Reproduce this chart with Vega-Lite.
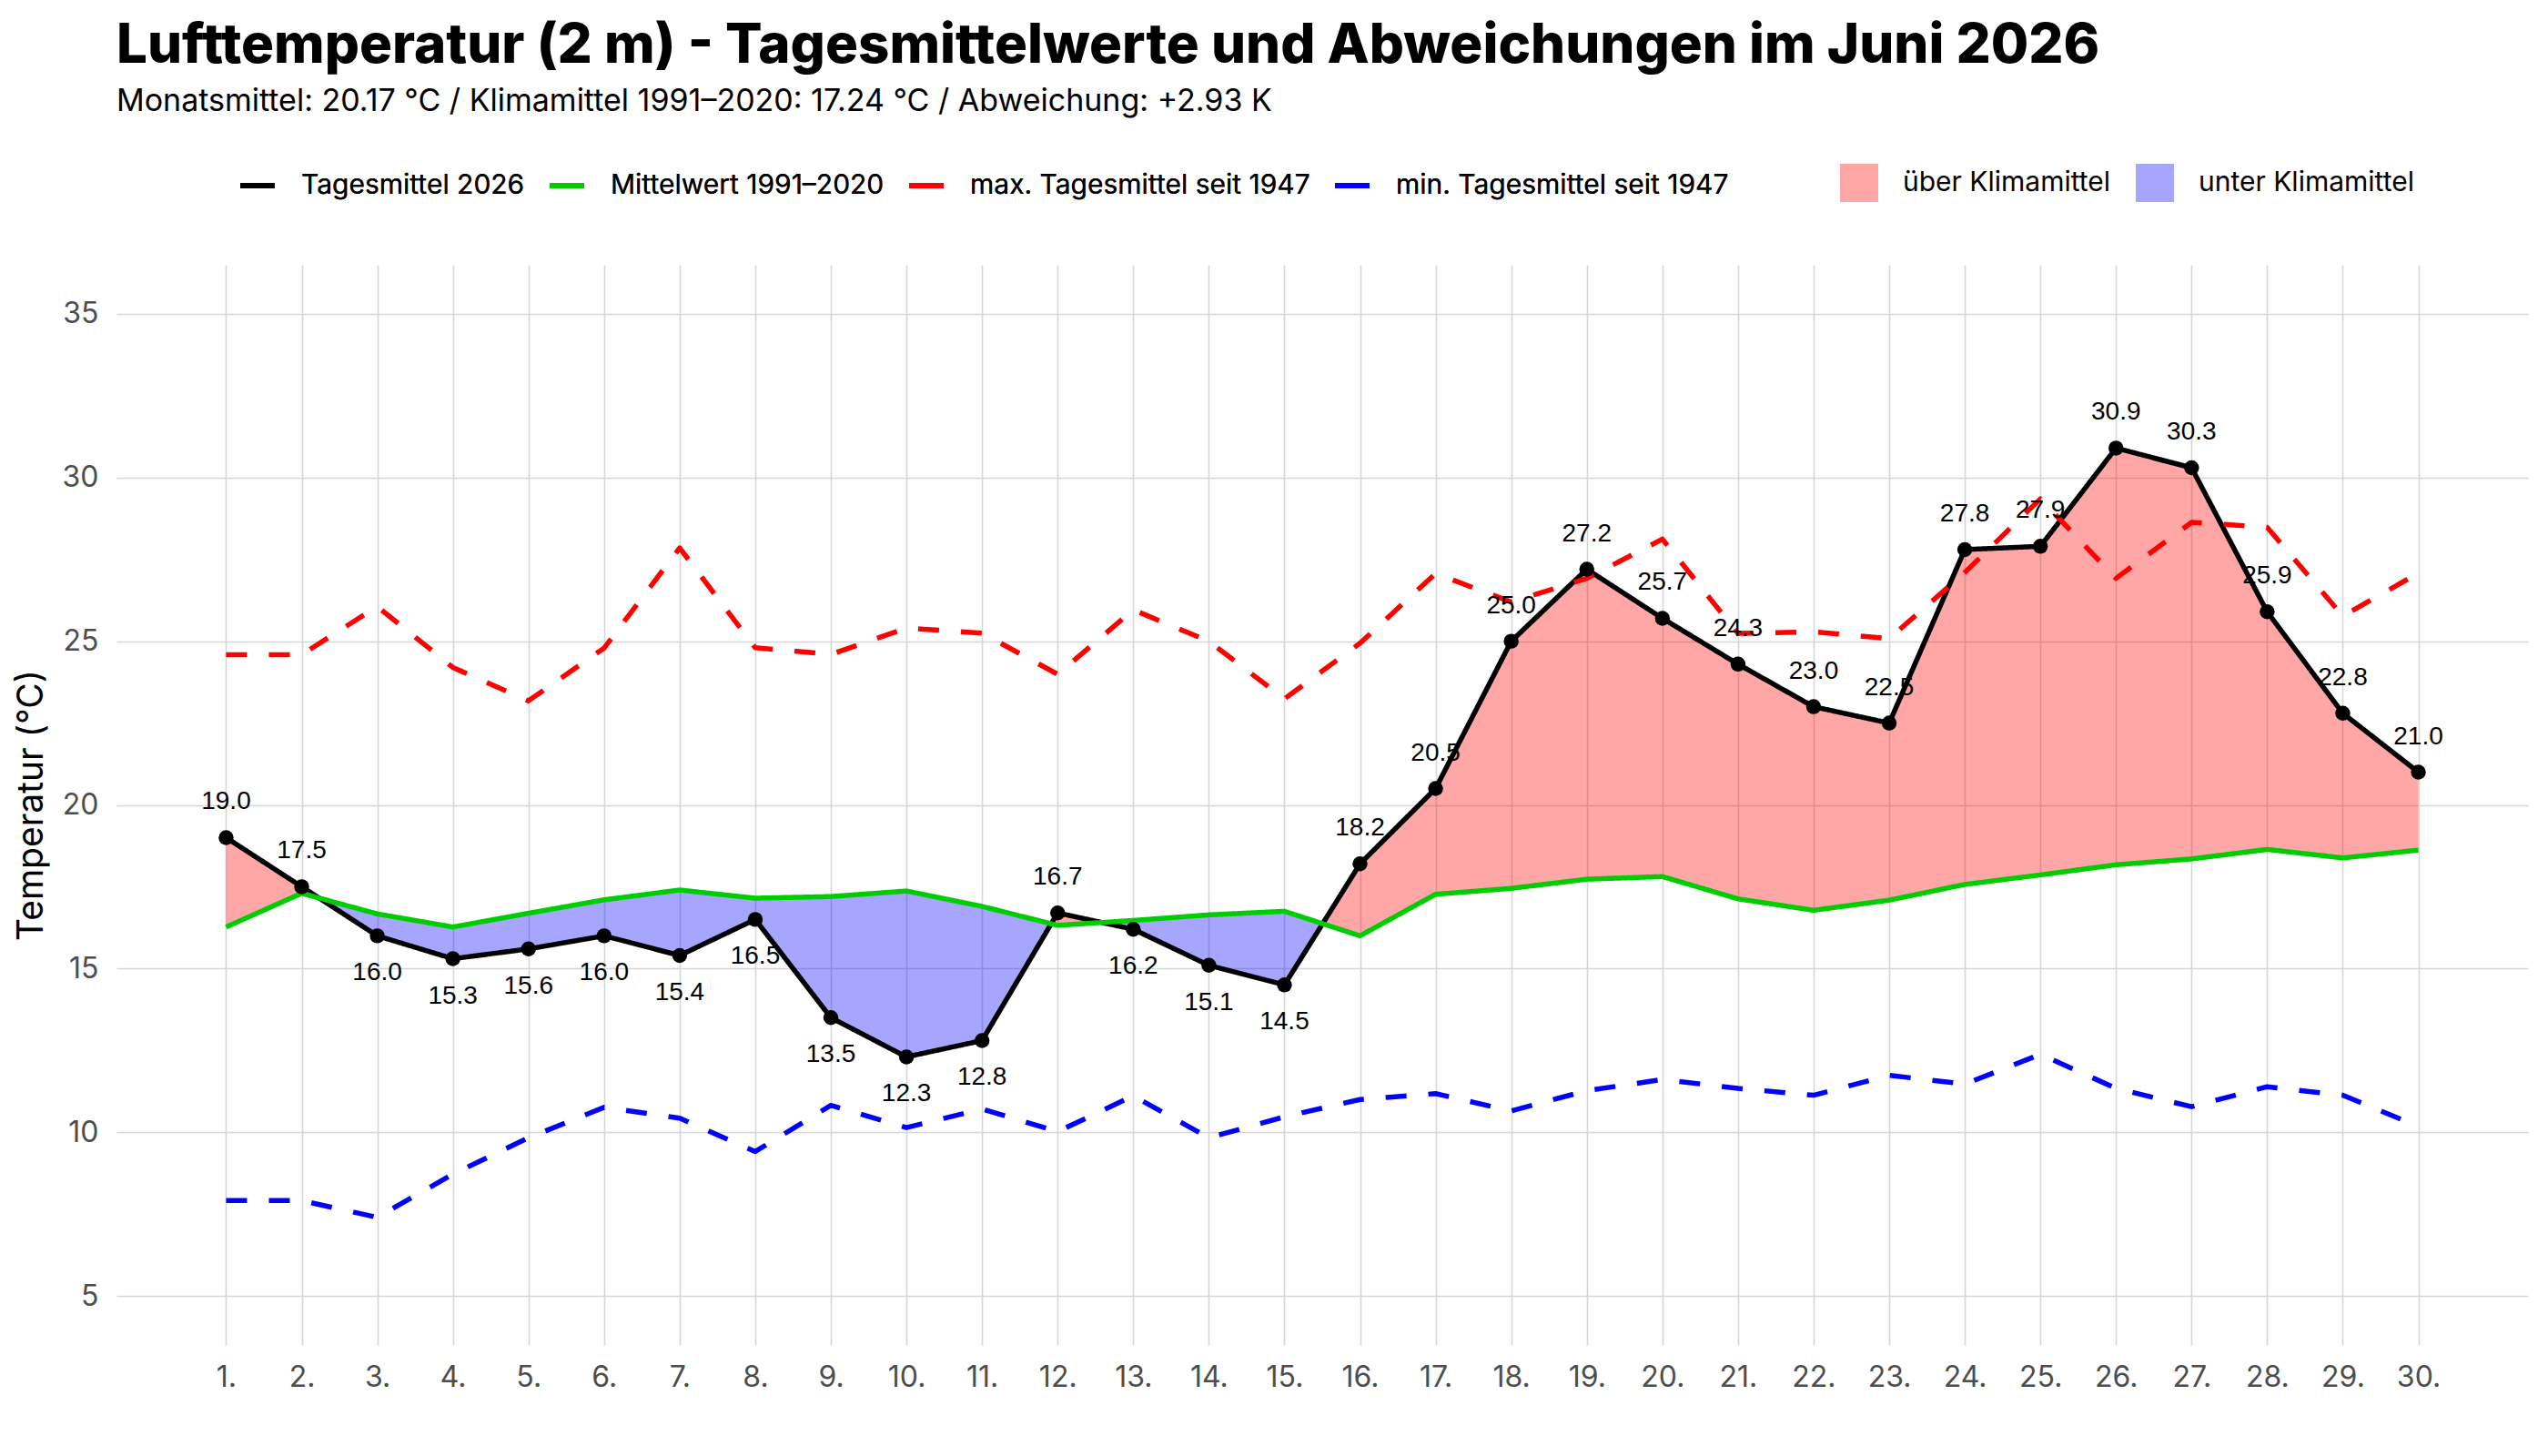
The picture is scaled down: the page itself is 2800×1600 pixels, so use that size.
{
  "$schema": "https://vega.github.io/schema/vega-lite/v6.json",
  "width": 2650,
  "height": 1187,
  "autosize": {"type": "none"},
  "padding": {"left": 128, "top": 291, "right": 22, "bottom": 122},
  "background": "white",
  "title": {
    "text": "Lufttemperatur (2 m) - Tagesmittelwerte und Abweichungen im Juni 2026",
    "subtitle": "Monatsmittel: 20.17 °C / Klimamittel 1991–2020: 17.24 °C / Abweichung: +2.93 K",
    "anchor": "start",
    "frame": "group",
    "font": "Inter",
    "fontSize": 60,
    "fontWeight": 800,
    "color": "#000000",
    "subtitleFont": "Inter",
    "subtitleFontSize": 34,
    "subtitleColor": "#000000",
    "subtitlePadding": 13,
    "offset": 50
  },
  "datasets": {
    "tage": [
      {"tag": 1, "tages": 19.0, "klima": 16.27, "max": 24.59, "min": 7.91},
      {"tag": 2, "tages": 17.5, "klima": 17.3, "max": 24.59, "min": 7.91},
      {"tag": 3, "tages": 16.0, "klima": 16.67, "max": 26.06, "min": 7.4},
      {"tag": 4, "tages": 15.3, "klima": 16.27, "max": 24.2, "min": 8.72},
      {"tag": 5, "tages": 15.6, "klima": 16.69, "max": 23.18, "min": 9.83},
      {"tag": 6, "tages": 16.0, "klima": 17.1, "max": 24.79, "min": 10.76},
      {"tag": 7, "tages": 15.4, "klima": 17.4, "max": 27.85, "min": 10.43},
      {"tag": 8, "tages": 16.5, "klima": 17.15, "max": 24.8, "min": 9.41},
      {"tag": 9, "tages": 13.5, "klima": 17.2, "max": 24.6, "min": 10.82},
      {"tag": 10, "tages": 12.3, "klima": 17.37, "max": 25.4, "min": 10.14},
      {"tag": 11, "tages": 12.8, "klima": 16.9, "max": 25.25, "min": 10.71},
      {"tag": 12, "tages": 16.7, "klima": 16.32, "max": 23.99, "min": 10.02},
      {"tag": 13, "tages": 16.2, "klima": 16.47, "max": 25.96, "min": 11.11},
      {"tag": 14, "tages": 15.1, "klima": 16.64, "max": 25.0, "min": 9.83},
      {"tag": 15, "tages": 14.5, "klima": 16.75, "max": 23.24, "min": 10.47},
      {"tag": 16, "tages": 18.2, "klima": 16.0, "max": 24.94, "min": 11.0},
      {"tag": 17, "tages": 20.5, "klima": 17.27, "max": 27.07, "min": 11.18},
      {"tag": 18, "tages": 25.0, "klima": 17.45, "max": 26.2, "min": 10.65},
      {"tag": 19, "tages": 27.2, "klima": 17.73, "max": 26.92, "min": 11.27},
      {"tag": 20, "tages": 25.7, "klima": 17.81, "max": 28.12, "min": 11.61},
      {"tag": 21, "tages": 24.3, "klima": 17.13, "max": 25.24, "min": 11.34},
      {"tag": 22, "tages": 23.0, "klima": 16.78, "max": 25.29, "min": 11.13},
      {"tag": 23, "tages": 22.5, "klima": 17.09, "max": 25.08, "min": 11.74},
      {"tag": 24, "tages": 27.8, "klima": 17.57, "max": 27.1, "min": 11.47},
      {"tag": 25, "tages": 27.9, "klima": 17.86, "max": 29.35, "min": 12.38},
      {"tag": 26, "tages": 30.9, "klima": 18.17, "max": 26.92, "min": 11.34},
      {"tag": 27, "tages": 30.3, "klima": 18.35, "max": 28.63, "min": 10.78},
      {"tag": 28, "tages": 25.9, "klima": 18.64, "max": 28.48, "min": 11.39},
      {"tag": 29, "tages": 22.8, "klima": 18.38, "max": 25.77, "min": 11.13},
      {"tag": 30, "tages": 21.0, "klima": 18.62, "max": 27.08, "min": 10.18}
    ],
    "band": [
      {"tag": 1, "von": 16.27, "bis": 19.0, "seite": "über Klimamittel", "abschnitt": 1},
      {"tag": 2, "von": 17.3, "bis": 17.5, "seite": "über Klimamittel", "abschnitt": 1},
      {"tag": 2.23, "von": 17.155, "bis": 17.155, "seite": "über Klimamittel", "abschnitt": 1},
      {"tag": 2.23, "von": 17.155, "bis": 17.155, "seite": "unter Klimamittel", "abschnitt": 2},
      {"tag": 3, "von": 16.0, "bis": 16.67, "seite": "unter Klimamittel", "abschnitt": 2},
      {"tag": 4, "von": 15.3, "bis": 16.27, "seite": "unter Klimamittel", "abschnitt": 2},
      {"tag": 5, "von": 15.6, "bis": 16.69, "seite": "unter Klimamittel", "abschnitt": 2},
      {"tag": 6, "von": 16.0, "bis": 17.1, "seite": "unter Klimamittel", "abschnitt": 2},
      {"tag": 7, "von": 15.4, "bis": 17.4, "seite": "unter Klimamittel", "abschnitt": 2},
      {"tag": 8, "von": 16.5, "bis": 17.15, "seite": "unter Klimamittel", "abschnitt": 2},
      {"tag": 9, "von": 13.5, "bis": 17.2, "seite": "unter Klimamittel", "abschnitt": 2},
      {"tag": 10, "von": 12.3, "bis": 17.37, "seite": "unter Klimamittel", "abschnitt": 2},
      {"tag": 11, "von": 12.8, "bis": 16.9, "seite": "unter Klimamittel", "abschnitt": 2},
      {"tag": 11.915, "von": 16.37, "bis": 16.37, "seite": "unter Klimamittel", "abschnitt": 2},
      {"tag": 11.915, "von": 16.37, "bis": 16.37, "seite": "über Klimamittel", "abschnitt": 3},
      {"tag": 12, "von": 16.32, "bis": 16.7, "seite": "über Klimamittel", "abschnitt": 3},
      {"tag": 12.585, "von": 16.41, "bis": 16.41, "seite": "über Klimamittel", "abschnitt": 3},
      {"tag": 12.585, "von": 16.41, "bis": 16.41, "seite": "unter Klimamittel", "abschnitt": 4},
      {"tag": 13, "von": 16.2, "bis": 16.47, "seite": "unter Klimamittel", "abschnitt": 4},
      {"tag": 14, "von": 15.1, "bis": 16.64, "seite": "unter Klimamittel", "abschnitt": 4},
      {"tag": 15, "von": 14.5, "bis": 16.75, "seite": "unter Klimamittel", "abschnitt": 4},
      {"tag": 15.506, "von": 16.37, "bis": 16.37, "seite": "unter Klimamittel", "abschnitt": 4},
      {"tag": 15.506, "von": 16.37, "bis": 16.37, "seite": "über Klimamittel", "abschnitt": 5},
      {"tag": 16, "von": 16.0, "bis": 18.2, "seite": "über Klimamittel", "abschnitt": 5},
      {"tag": 17, "von": 17.27, "bis": 20.5, "seite": "über Klimamittel", "abschnitt": 5},
      {"tag": 18, "von": 17.45, "bis": 25.0, "seite": "über Klimamittel", "abschnitt": 5},
      {"tag": 19, "von": 17.73, "bis": 27.2, "seite": "über Klimamittel", "abschnitt": 5},
      {"tag": 20, "von": 17.81, "bis": 25.7, "seite": "über Klimamittel", "abschnitt": 5},
      {"tag": 21, "von": 17.13, "bis": 24.3, "seite": "über Klimamittel", "abschnitt": 5},
      {"tag": 22, "von": 16.78, "bis": 23.0, "seite": "über Klimamittel", "abschnitt": 5},
      {"tag": 23, "von": 17.09, "bis": 22.5, "seite": "über Klimamittel", "abschnitt": 5},
      {"tag": 24, "von": 17.57, "bis": 27.8, "seite": "über Klimamittel", "abschnitt": 5},
      {"tag": 25, "von": 17.86, "bis": 27.9, "seite": "über Klimamittel", "abschnitt": 5},
      {"tag": 26, "von": 18.17, "bis": 30.9, "seite": "über Klimamittel", "abschnitt": 5},
      {"tag": 27, "von": 18.35, "bis": 30.3, "seite": "über Klimamittel", "abschnitt": 5},
      {"tag": 28, "von": 18.64, "bis": 25.9, "seite": "über Klimamittel", "abschnitt": 5},
      {"tag": 29, "von": 18.38, "bis": 22.8, "seite": "über Klimamittel", "abschnitt": 5},
      {"tag": 30, "von": 18.62, "bis": 21.0, "seite": "über Klimamittel", "abschnitt": 5}
    ],
    "wochenenden": [
      {"von": 5.5, "bis": 7.5},
      {"von": 12.5, "bis": 14.5},
      {"von": 19.5, "bis": 21.5},
      {"von": 26.5, "bis": 28.5}
    ]
  },
  "layer": [
    {
      "data": {"name": "wochenenden"},
      "mark": {"type": "rect", "fill": "#f0f0f0", "opacity": 0.6},
      "encoding": {
        "x": {"field": "von", "type": "quantitative", "scale": {"domain": [-0.45, 31.45], "nice": false, "zero": false}},
        "x2": {"field": "bis"}
      }
    },
    {
      "data": {"name": "band"},
      "mark": {"type": "area", "opacity": 0.35},
      "encoding": {
        "x": {"field": "tag", "type": "quantitative"},
        "y": {"field": "bis", "type": "quantitative"},
        "y2": {"field": "von"},
        "detail": {"field": "abschnitt"},
        "fill": {
          "field": "seite",
          "type": "nominal",
          "scale": {"domain": ["über Klimamittel", "unter Klimamittel"], "range": ["#ff0000", "#0000ff"]},
          "legend": {
            "orient": "none",
            "legendX": 1894,
            "legendY": -111,
            "direction": "horizontal",
            "title": null,
            "symbolType": "square",
            "symbolSize": 1764,
            "symbolOpacity": 0.35,
            "symbolStrokeWidth": 0,
            "labelFont": "Inter",
            "labelFontSize": 30,
            "labelColor": "#000000",
            "labelOffset": 27,
            "columnPadding": 27,
            "labelLimit": 1000
          }
        }
      }
    },
    {
      "data": {"name": "tage"},
      "transform": [{"fold": ["tages", "klima", "max", "min"], "as": ["reihe", "wert"]}],
      "mark": {"type": "line", "strokeWidth": 5.5, "strokeCap": "butt", "strokeJoin": "round"},
      "encoding": {
        "x": {"field": "tag", "type": "quantitative"},
        "y": {"field": "wert", "type": "quantitative"},
        "stroke": {
          "field": "reihe",
          "type": "nominal",
          "scale": {"domain": ["tages", "klima", "max", "min"], "range": ["#000000", "#00cd00", "#ff0000", "#0000ff"]},
          "legend": {
            "orient": "none",
            "legendX": 133,
            "legendY": -109,
            "direction": "horizontal",
            "title": null,
            "symbolType": "stroke",
            "symbolSize": 1444,
            "symbolStrokeWidth": 6,
            "labelFont": "Inter",
            "labelFontSize": 30,
            "labelColor": "#000000",
            "labelOffset": 26,
            "columnPadding": 15,
            "labelLimit": 1000,
            "labelExpr": "{'tages': 'Tagesmittel 2026', 'klima': 'Mittelwert 1991–2020', 'max': 'max. Tagesmittel seit 1947', 'min': 'min. Tagesmittel seit 1947'}[datum.label]"
          }
        },
        "strokeDash": {
          "field": "reihe",
          "type": "nominal",
          "scale": {"domain": ["tages", "klima", "max", "min"], "range": [[1, 0], [1, 0], [23, 24], [23, 24]]},
          "legend": {
            "orient": "none",
            "legendX": 133,
            "legendY": -109,
            "direction": "horizontal",
            "title": null,
            "symbolType": "stroke",
            "symbolSize": 1444,
            "symbolStrokeWidth": 6,
            "labelFont": "Inter",
            "labelFontSize": 30,
            "labelColor": "#000000",
            "labelOffset": 26,
            "columnPadding": 15,
            "labelLimit": 1000,
            "labelExpr": "{'tages': 'Tagesmittel 2026', 'klima': 'Mittelwert 1991–2020', 'max': 'max. Tagesmittel seit 1947', 'min': 'min. Tagesmittel seit 1947'}[datum.label]"
          }
        }
      }
    },
    {
      "data": {"name": "tage"},
      "mark": {"type": "point", "filled": true, "size": 270, "color": "#000000", "opacity": 1},
      "encoding": {
        "x": {"field": "tag", "type": "quantitative"},
        "y": {"field": "tages", "type": "quantitative"}
      }
    },
    {
      "data": {"name": "tage"},
      "transform": [{"filter": "datum.tages >= datum.klima"}],
      "mark": {"type": "text", "font": "Liberation Sans", "fontSize": 28, "color": "#000000", "dy": -39, "baseline": "middle"},
      "encoding": {
        "x": {"field": "tag", "type": "quantitative"},
        "y": {"field": "tages", "type": "quantitative"},
        "text": {"field": "tages", "type": "quantitative", "format": ".1f"}
      }
    },
    {
      "data": {"name": "tage"},
      "transform": [{"filter": "datum.tages < datum.klima"}],
      "mark": {"type": "text", "font": "Liberation Sans", "fontSize": 28, "color": "#000000", "dy": 41, "baseline": "middle"},
      "encoding": {
        "x": {"field": "tag", "type": "quantitative"},
        "y": {"field": "tages", "type": "quantitative"},
        "text": {"field": "tages", "type": "quantitative", "format": ".1f"}
      }
    }
  ],
  "resolve": {"legend": {"fill": "independent", "stroke": "independent"}},
  "encoding": {
    "x": {
      "field": "tag",
      "type": "quantitative",
      "scale": {"domain": [-0.45, 31.45], "nice": false, "zero": false},
      "axis": {
        "title": null,
        "values": [1,2,3,4,5,6,7,8,9,10,11,12,13,14,15,16,17,18,19,20,21,22,23,24,25,26,27,28,29,30],
        "labelExpr": "datum.value + '.'",
        "grid": true,
        "domain": false,
        "ticks": false,
        "tickSize": 0,
        "labelPadding": 20,
        "labelFont": "Inter",
        "labelFontSize": 32,
        "labelColor": "#4d4d4d",
        "gridColor": "#d6d6d6",
        "gridWidth": 1.6
      }
    },
    "y": {
      "field": "wert",
      "type": "quantitative",
      "scale": {"domain": [3.5, 36.5], "nice": false, "zero": false},
      "axis": {
        "title": "Temperatur (°C)",
        "values": [5, 10, 15, 20, 25, 30, 35],
        "grid": true,
        "domain": false,
        "ticks": false,
        "tickSize": 0,
        "labelPadding": 20,
        "labelFont": "Inter",
        "labelFontSize": 32,
        "labelColor": "#4d4d4d",
        "gridColor": "#d6d6d6",
        "gridWidth": 1.6,
        "titleFont": "Inter",
        "titleFontSize": 39,
        "titleFontWeight": "normal",
        "titleColor": "#000000",
        "titlePadding": 14
      }
    }
  },
  "config": {
    "view": {"stroke": null},
    "axis": {"labelFont": "Inter"}
  }
}
